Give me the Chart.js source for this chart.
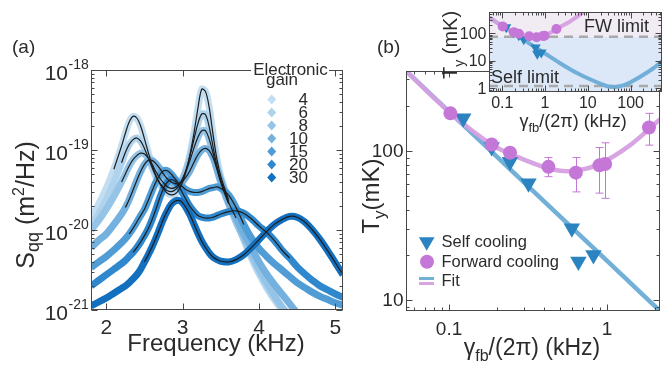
<!DOCTYPE html>
<html>
<head>
<meta charset="utf-8">
<script src="https://cdn.jsdelivr.net/npm/chart.js@4.4.1/dist/chart.umd.min.js"></script>
<style>
  body { margin: 0; background: #fff; }
  #wrap { position: relative; width: 670px; height: 366px; overflow: hidden; }
  canvas { position: absolute; top: 0; }
</style>
</head>
<body>
<div id="wrap">
  <canvas id="chartA" width="350" height="366" style="left:0;width:350px;height:366px"></canvas>
  <canvas id="chartB" width="320" height="366" style="left:350px;width:320px;height:366px"></canvas>
  <canvas id="chartC" width="240" height="140" style="left:430px;width:240px;height:140px"></canvas>
</div>
<script>
//panel (a): spectra, log10 of S_qq (m^2/Hz)
const freqKHz = [1.8, 1.9, 2.0, 2.1, 2.2,
  2.25, 2.3, 2.35, 2.4, 2.45, 2.5, 2.55, 2.6, 2.65, 2.7,
  2.75, 2.8, 2.85, 2.9, 2.95, 3.0, 3.05, 3.1, 3.15, 3.2,
  3.25, 3.3, 3.35, 3.4, 3.45, 3.5,
  3.6, 3.7, 3.8, 3.9, 4.0, 4.1, 4.2, 4.3, 4.4, 4.5, 4.6, 4.7, 4.8, 4.9, 5.0, 5.1];

const logSGain4 = [-19.85, -19.68, -19.48, -19.24, -18.95,
  -18.79, -18.65, -18.58, -18.6, -18.7, -18.86, -19.03, -19.19, -19.32, -19.42,
  -19.49, -19.54, -19.56, -19.55, -19.5, -19.4, -19.25, -19.04, -18.78, -18.48,
  -18.24, -18.27, -18.48, -18.82, -19.12, -19.33,
  -19.62, -19.88, -20.12, -20.35, -20.55, -20.72, -20.87, -21.0, -21.12, -21.25, -21.4, -21.55, -21.7, -21.85, -22.0, -22.1];
const logSGain6 = [-19.95, -19.8, -19.62, -19.4, -19.16,
  -19.03, -18.93, -18.87, -18.85, -18.89, -18.98, -19.1, -19.22, -19.33, -19.41,
  -19.47, -19.51, -19.52, -19.5, -19.45, -19.36, -19.23, -19.06, -18.86, -18.67,
  -18.55, -18.56, -18.72, -18.97, -19.2, -19.38,
  -19.64, -19.88, -20.1, -20.32, -20.52, -20.7, -20.85, -20.98, -21.1, -21.25, -21.4, -21.55, -21.7, -21.85, -22.0, -22.1];
const logSGain8 = [-20.0, -19.88, -19.74, -19.58, -19.4,
  -19.3, -19.2, -19.12, -19.07, -19.04, -19.05, -19.1, -19.18, -19.27, -19.35,
  -19.41, -19.46, -19.48, -19.47, -19.43, -19.36, -19.25, -19.12, -18.97, -18.84,
  -18.76, -18.76, -18.87, -19.05, -19.24, -19.41,
  -19.67, -19.9, -20.1, -20.3, -20.49, -20.66, -20.82, -20.96, -21.08, -21.22, -21.36, -21.5, -21.65, -21.8, -21.95, -22.1];
const logSGain10 = [-20.22, -20.13, -20.05, -19.93, -19.8,
  -19.72, -19.62, -19.5, -19.38, -19.27, -19.18, -19.13, -19.13, -19.17, -19.23,
  -19.3, -19.36, -19.4, -19.42, -19.42, -19.39, -19.33, -19.25, -19.15, -19.06,
  -19.0, -18.98, -19.01, -19.1, -19.24, -19.38,
  -19.65, -19.85, -20.05, -20.22, -20.4, -20.55, -20.68, -20.8, -20.92, -21.04, -21.18, -21.3, -21.42, -21.55, -21.7, -21.85];
const logSGain15 = [-20.47, -20.4, -20.33, -20.25, -20.16,
  -20.11, -20.05, -19.98, -19.9, -19.82, -19.74, -19.63, -19.51, -19.4, -19.31,
  -19.26, -19.26, -19.3, -19.36, -19.42, -19.46, -19.5, -19.52, -19.53, -19.53,
  -19.52, -19.5, -19.48, -19.47, -19.46, -19.48,
  -19.56, -19.72, -19.93, -20.1, -20.23, -20.33, -20.42, -20.5, -20.58, -20.66, -20.72, -20.78, -20.83, -20.87, -20.91, -20.94];
const logSGain20 = [-20.7, -20.63, -20.56, -20.49, -20.42,
  -20.38, -20.33, -20.28, -20.22, -20.15, -20.07, -19.98, -19.87, -19.74, -19.6,
  -19.48, -19.4, -19.37, -19.39, -19.45, -19.54, -19.63, -19.71, -19.77, -19.82,
  -19.84, -19.85, -19.85, -19.84, -19.82, -19.8,
  -19.77, -19.76, -19.79, -19.86, -19.95, -20.03, -20.13, -20.25, -20.35, -20.46, -20.55, -20.63, -20.7, -20.75, -20.8, -20.84];
const logSGain30 = [-20.95, -20.9, -20.85, -20.79, -20.73,
  -20.7, -20.66, -20.61, -20.56, -20.49, -20.4, -20.31, -20.21, -20.1, -19.98,
  -19.86, -19.76, -19.68, -19.64, -19.63, -19.66, -19.73, -19.82, -19.93, -20.04,
  -20.14, -20.22, -20.29, -20.34, -20.37, -20.39,
  -20.4, -20.37, -20.31, -20.22, -20.12, -20.02, -19.93, -19.87, -19.83, -19.84, -19.9, -20.0, -20.12, -20.26, -20.41, -20.56];

const gains = [4, 6, 8, 10, 15, 20, 30];
const gainLogS = [logSGain4, logSGain6, logSGain8, logSGain10, logSGain15, logSGain20, logSGain30];
const gainColors = ['#c3def1', '#afd3ed', '#95c4e7', '#74b1de', '#509dd6', '#2f88cd', '#1370bf'];
const fitRangesKHz = [[2.1, 3.6], [2.2, 3.6], [2.2, 3.6], [2.25, 3.7], [2.3, 3.8], [2.35, 4.4], [2.5, 5.1]];

//panel (b): temperatures (mK) vs gamma_fb/(2 pi) (kHz)
const selfX = [0.123, 0.186, 0.243, 0.318, 0.598, 0.658, 0.819];
const selfY = [165, 106, 84.4, 60.5, 30.2, 18.1, 20.0];
const fwX = [0.102, 0.186, 0.243, 0.425, 0.634, 0.894, 0.971, 1.84];
const fwY = [178, 110, 97, 78, 71.3, 79.8, 81.4, 143];
const fwErrLo = [null, null, null, 67, 53, 52, 48, 109];
const fwErrHi = [null, null, null, 90, 90, 105, 113, 178];
const selfFitX = [0.05, 0.1, 0.3, 1, 2.2, 5, 10, 20, 30, 45, 70, 100, 200, 350, 600];
const selfFitY = [366, 183, 61, 18.3, 8.3, 3.9, 2.3, 1.45, 1.15, 1.12, 1.3, 1.65, 3.1, 5.5, 11];
const fwFitX = [0.05, 0.1, 0.186, 0.27, 0.42, 0.58, 0.86, 1.4, 2.2, 4, 8, 12];
const fwFitY = [366, 182, 110, 91, 76.5, 73, 80, 109, 165, 280, 600, 950];
const fwLimit = 75;
const selfLimit = 1.21;

const FONT = '"Liberation Sans", Arial, Helvetica, sans-serif';
const TXT = '#2b2b2b';
const SELF_C = '#2b83c0';
const FW_C = '#c577d7';
const SELF_FIT_C = 'rgba(108,172,214,0.95)';
const FW_FIT_C = 'rgba(214,160,226,0.95)';

//helpers
const pts = (xs, ys) => xs.map((x, i) => ({ x: x, y: ys[i] }));

const drawRich = (ctx, parts, x, y, align, rotate) => {
    ctx.save();
    ctx.translate(x, y);
    if (rotate) ctx.rotate(-Math.PI / 2);
    ctx.textBaseline = 'alphabetic';
    ctx.textAlign = 'left';
    ctx.fillStyle = TXT;
    let w = 0;
    parts.forEach(p => { ctx.font = p[1] + 'px ' + FONT; w += ctx.measureText(p[0]).width; });
    let cx = align === 'center' ? -w / 2 : (align === 'right' ? -w : 0);
    parts.forEach(p => {
        ctx.font = p[1] + 'px ' + FONT;
        ctx.fillText(p[0], cx, p[2] || 0);
        cx += ctx.measureText(p[0]).width;
    });
    ctx.restore();
};

const text = (ctx, t, x, y, size, align, base) => {
    ctx.font = size + 'px ' + FONT;
    ctx.fillStyle = TXT;
    ctx.textAlign = align || 'left';
    ctx.textBaseline = base || 'middle';
    ctx.fillText(t, x, y);
};

const logTicks = (min, max) => { //decades long, 2..9 short
    const out = [];
    for (let e = Math.floor(Math.log10(min)); e <= Math.ceil(Math.log10(max)); e++) {
        for (let m = 1; m <= 9; m++) {
            const v = m * Math.pow(10, e);
            if (v >= min * 0.999 && v <= max * 1.001) out.push([v, m === 1 ? 6 : 3]);
        }
    }
    return out;
};

const drawFrame = (chart, xt, yt) => {
    const { ctx, chartArea: a } = chart;
    const sx = chart.scales.x, sy = chart.scales.y;
    const L = Math.round(a.left) + 0.5, R = Math.round(a.right) - 0.5;
    const T = Math.round(a.top) + 0.5, B = Math.round(a.bottom) - 0.5;
    ctx.save();
    ctx.strokeStyle = '#474747';
    ctx.lineWidth = 1;
    ctx.strokeRect(L, T, R - L, B - T);
    ctx.beginPath();
    xt.forEach(([v, len]) => {
        const p = Math.round(sx.getPixelForValue(v)) + 0.5;
        ctx.moveTo(p, B); ctx.lineTo(p, B - len);
        ctx.moveTo(p, T); ctx.lineTo(p, T + len);
    });
    yt.forEach(([v, len]) => {
        const p = Math.round(sy.getPixelForValue(v)) + 0.5;
        ctx.moveTo(L, p); ctx.lineTo(L + len, p);
        ctx.moveTo(R, p); ctx.lineTo(R - len, p);
    });
    ctx.stroke();
    ctx.restore();
};

const baseOptions = (pad, xScale, yScale) => ({
    responsive: false,
    animation: false,
    devicePixelRatio: 1,
    layout: { padding: pad },
    plugins: { legend: { display: false }, tooltip: { enabled: false } },
    scales: { x: xScale, y: yScale }
});

//Panel (a)
const datasetsA = [];
gains.forEach((g, i) => {
    const series = freqKHz.map((f, k) => ({ x: f, y: Math.pow(10, gainLogS[i][k]) }));
    datasetsA.push({
        label: 'gain ' + g, data: series, showLine: true,
        borderColor: gainColors[i], borderWidth: 7, pointRadius: 0,
        tension: 0.35, order: 20 - i, clip: 0
    });
    const [f0, f1] = fitRangesKHz[i];
    datasetsA.push({
        label: 'fit ' + g, data: series.filter(p => p.x >= f0 - 1e-9 && p.x <= f1 + 1e-9), showLine: true,
        borderColor: '#1d1d1d', borderWidth: 1.2, pointRadius: 0,
        tension: 0.35, order: 1, clip: 0
    });
});

const panelAPlugin = {
    id: 'panelA',
    afterDraw(chart) {
        const ctx = chart.ctx, sx = chart.scales.x, sy = chart.scales.y;
        drawFrame(chart, [2, 3, 4, 5].map(v => [v, 6]), logTicks(1e-21, 1e-18));
        //y tick labels 10^n
        for (let e = -21; e <= -18; e++) {
            const py = sy.getPixelForValue(Math.pow(10, e));
            text(ctx, '10', 68, py + 9.5, 21, 'right', 'alphabetic');
            text(ctx, String(e), 68.5, py - 1, 14, 'left', 'alphabetic');
        }
        [2, 3, 4, 5].forEach(v => text(ctx, String(v), sx.getPixelForValue(v), 333.5, 21, 'center', 'alphabetic'));
        drawRich(ctx, [['Frequency (kHz)', 24]], 216, 351, 'center', false);
        drawRich(ctx, [['S', 25], ['qq', 18, 5], [' (m', 25], ['2', 16, -10], ['/Hz)', 25]], 33.5, 205, 'center', true);
        text(ctx, '(a)', 12, 53, 19, 'left', 'alphabetic');
        //legend
        ctx.fillStyle = '#fff';
        ctx.fillRect(251, 63, 78, 14);
        text(ctx, 'Electronic', 290.5, 70.5, 17, 'center', 'middle');
        text(ctx, 'gain', 282, 80.5, 17, 'center', 'middle');
        gains.forEach((g, i) => {
            const y = 99.5 + i * 13;
            ctx.fillStyle = gainColors[i];
            ctx.beginPath();
            ctx.moveTo(271.7, y - 5); ctx.lineTo(276.2, y); ctx.lineTo(271.7, y + 5); ctx.lineTo(267.2, y);
            ctx.closePath(); ctx.fill();
            text(ctx, String(g), 308, y + 1, 17, 'right', 'middle');
        });
    }
};

new Chart(document.getElementById('chartA'), {
    type: 'scatter',
    data: { datasets: datasetsA },
    options: baseOptions({ left: 91, top: 70, right: 7, bottom: 56 },
        { type: 'linear', min: 1.8, max: 5.1, bounds: 'data', display: false },
        { type: 'logarithmic', min: 1e-21, max: 1e-18, bounds: 'data', display: false }),
    plugins: [panelAPlugin]
});

//Panel (b)
const OXB = 350;
const panelBPlugin = {
    id: 'panelB',
    beforeDatasetsDraw(chart) { //error bars of forward cooling
        const ctx = chart.ctx, sx = chart.scales.x, sy = chart.scales.y;
        ctx.save();
        ctx.strokeStyle = FW_C;
        ctx.lineWidth = 1;
        ctx.beginPath();
        fwX.forEach((x, i) => {
            if (fwErrLo[i] === null) return;
            const px = Math.round(sx.getPixelForValue(x)) + 0.5;
            const y0 = sy.getPixelForValue(fwErrLo[i]), y1 = sy.getPixelForValue(fwErrHi[i]);
            ctx.moveTo(px, y0); ctx.lineTo(px, y1);
            ctx.moveTo(px - 4, y0); ctx.lineTo(px + 4, y0);
            ctx.moveTo(px - 4, y1); ctx.lineTo(px + 4, y1);
        });
        ctx.stroke();
        ctx.restore();
    },
    afterDraw(chart) {
        const ctx = chart.ctx, sx = chart.scales.x, sy = chart.scales.y;
        drawFrame(chart, logTicks(0.0534, 2.16), logTicks(8.44, 342));
        ctx.save();
        ctx.translate(-OXB, 0);
        text(ctx, '100', 403.5, sy.getPixelForValue(100) + 1, 19, 'right', 'middle');
        text(ctx, '10', 403.5, sy.getPixelForValue(10) + 1, 19, 'right', 'middle');
        text(ctx, '0.1', sx.getPixelForValue(0.1) + OXB, 330, 19, 'center', 'middle');
        text(ctx, '1', sx.getPixelForValue(1) + OXB, 330, 19, 'center', 'middle');
        drawRich(ctx, [['\u03b3', 23], ['fb', 16, 6], ['/(2\u03c0) (kHz)', 23]], 532, 355, 'center', false);
        drawRich(ctx, [['T', 24], ['y', 17, 6], ['(mK)', 24]], 378.5, 196, 'center', true);
        text(ctx, '(b)', 377, 53, 19, 'left', 'alphabetic');
        //legend
        ctx.fillStyle = SELF_C;
        ctx.beginPath();
        ctx.moveTo(418.9, 237.2); ctx.lineTo(434.5, 237.2); ctx.lineTo(426.7, 250.7);
        ctx.closePath(); ctx.fill();
        ctx.fillStyle = FW_C;
        ctx.beginPath(); ctx.arc(427, 261.7, 7, 0, Math.PI * 2); ctx.fill();
        ctx.lineWidth = 3;
        ctx.strokeStyle = SELF_FIT_C;
        ctx.beginPath(); ctx.moveTo(419, 278.5); ctx.lineTo(434, 278.5); ctx.stroke();
        ctx.strokeStyle = FW_FIT_C;
        ctx.beginPath(); ctx.moveTo(419, 283.5); ctx.lineTo(434, 283.5); ctx.stroke();
        text(ctx, 'Self cooling', 441.5, 242, 16.5);
        text(ctx, 'Forward cooling', 441.5, 262, 16.5);
        text(ctx, 'Fit', 441.5, 281.5, 16.5);
        ctx.restore();
    }
};

new Chart(document.getElementById('chartB'), {
    type: 'scatter',
    data: {
        datasets: [
            { label: 'Self cooling', data: pts(selfX, selfY), pointStyle: 'triangle', pointRotation: 180,
              pointRadius: 9.5, backgroundColor: SELF_C, borderWidth: 0, order: 2 },
            { label: 'Forward cooling', data: pts(fwX, fwY), pointStyle: 'circle',
              pointRadius: 7, backgroundColor: FW_C, borderWidth: 0, order: 1 },
            { label: 'Fit self', data: pts(selfFitX, selfFitY), showLine: true, borderColor: SELF_FIT_C,
              borderWidth: 4.5, pointRadius: 0, tension: 0.3, clip: 0, order: 4 },
            { label: 'Fit forward', data: pts(fwFitX, fwFitY), showLine: true, borderColor: FW_FIT_C,
              borderWidth: 4.5, pointRadius: 0, tension: 0.3, clip: 0, order: 3 }
        ]
    },
    options: baseOptions({ left: 56, top: 71, right: 10, bottom: 55 },
        { type: 'logarithmic', min: 0.0534, max: 2.16, bounds: 'data', display: false },
        { type: 'logarithmic', min: 8.44, max: 342, bounds: 'data', display: false }),
    plugins: [panelBPlugin]
});

//Inset
const OXC = 430;
const insetPlugin = {
    id: 'inset',
    beforeDatasetsDraw(chart) {
        const { ctx, chartArea: a } = chart;
        const sy = chart.scales.y;
        const yFw = sy.getPixelForValue(fwLimit), ySelf = sy.getPixelForValue(selfLimit);
        ctx.save();
        ctx.fillStyle = '#f1ebf4';
        ctx.fillRect(a.left, a.top, a.right - a.left, yFw - a.top);
        ctx.fillStyle = '#dce8f7';
        ctx.fillRect(a.left, yFw, a.right - a.left, a.bottom - yFw);
        ctx.strokeStyle = '#a9a9a9';
        ctx.lineWidth = 2.5;
        ctx.setLineDash([9, 6]);
        ctx.beginPath();
        ctx.moveTo(a.left, yFw); ctx.lineTo(a.right, yFw);
        ctx.moveTo(a.left, ySelf); ctx.lineTo(a.right, ySelf);
        ctx.stroke();
        ctx.restore();
    },
    afterDraw(chart) {
        const ctx = chart.ctx, sx = chart.scales.x, sy = chart.scales.y;
        drawFrame(chart, logTicks(0.0489, 543), logTicks(0.73, 595));
        ctx.save();
        ctx.translate(-OXC, 0);
        [[100, '100'], [10, '10'], [1, '1']].forEach(([v, t]) =>
            text(ctx, t, 486.5, sy.getPixelForValue(v) + 1, 16, 'right', 'middle'));
        [[0.1, '0.1'], [1, '1'], [10, '10'], [100, '100']].forEach(([v, t]) =>
            text(ctx, t, sx.getPixelForValue(v) + OXC, 103.5, 16, 'center', 'middle'));
        drawRich(ctx, [['\u03b3', 18], ['fb', 13, 5], ['/(2\u03c0) (kHz)', 18]], 573, 127, 'center', false);
        drawRich(ctx, [['T', 20], ['y', 14, 7], [' (mK)', 20]], 457, 45, 'center', true);
        text(ctx, 'FW limit', 584, 27, 18);
        text(ctx, 'Self limit', 491, 78, 18);
        ctx.restore();
    }
};

new Chart(document.getElementById('chartC'), {
    type: 'scatter',
    data: {
        datasets: [
            { label: 'Self cooling', data: pts(selfX, selfY), pointStyle: 'triangle', pointRotation: 180,
              pointRadius: 6, backgroundColor: SELF_C, borderWidth: 0, order: 2 },
            { label: 'Forward cooling', data: pts(fwX, fwY), pointStyle: 'circle',
              pointRadius: 5, backgroundColor: FW_C, borderWidth: 0, order: 1 },
            { label: 'Fit self', data: pts(selfFitX, selfFitY), showLine: true, borderColor: SELF_FIT_C,
              borderWidth: 4, pointRadius: 0, tension: 0.3, clip: 0, order: 4 },
            { label: 'Fit forward', data: pts(fwFitX, fwFitY), showLine: true, borderColor: FW_FIT_C,
              borderWidth: 4, pointRadius: 0, tension: 0.3, clip: 0, order: 3 }
        ]
    },
    options: baseOptions({ left: 59, top: 12, right: 8, bottom: 48 },
        { type: 'logarithmic', min: 0.0489, max: 543, bounds: 'data', display: false },
        { type: 'logarithmic', min: 0.73, max: 595, bounds: 'data', display: false }),
    plugins: [insetPlugin]
});
</script>
</body>
</html>
